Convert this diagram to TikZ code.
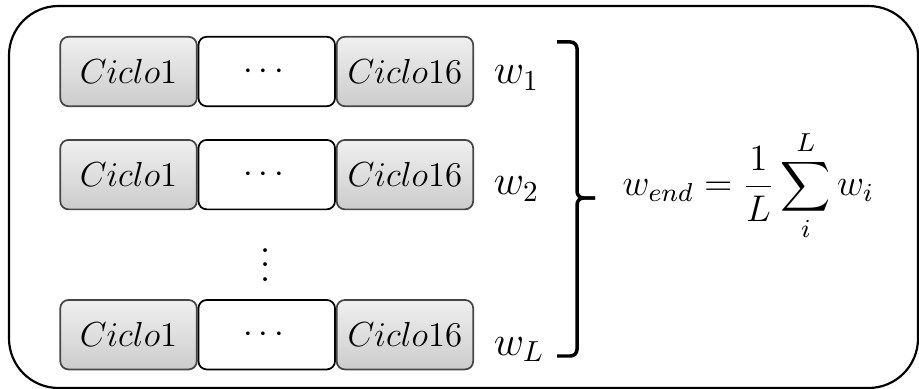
\documentclass[tikz,border=0pt]{standalone}
\usepackage{fix-cm}
\usepackage{amsmath}
\usetikzlibrary{positioning}

\begin{document}
\begin{tikzpicture}[
  caja/.style={line width=0.6pt,rounded corners=0.1cm,minimum width=1.655cm,
    minimum height=0.842cm,inner sep=0pt,outer sep=0pt,font=\large},
  ciclo/.style={caja,draw=gray!55!black,top color=gray!12,bottom color=gray!40},
  medio/.style={caja,draw=black,fill=white},
  peso/.style={anchor=base west,inner sep=0pt,font=\Large},
  llave/.style={line width=1.2pt,rounded corners=0.08cm}]
  \useasboundingbox (0,0) rectangle (11.139,4.715);
  % marco exterior
  \draw[line width=0.75pt,rounded corners=0.6cm] (0.109,0.012) rectangle (11.127,4.642);
  % filas de ciclos
  \foreach \r/\y/\w/\yw in {1/3.848/1/3.697,2/2.598/2/2.352,3/0.658/L/0.412}{
    \node[ciclo] (c1-\r) at (1.558,\y) {$Ciclo1$};
    \node[medio,right=0.02cm of c1-\r] (m-\r) {$\cdots$};
    \node[ciclo,right=0.02cm of m-\r] (c16-\r) {$Ciclo16$};
    \node[peso] (w-\r) at (5.98,\yw) {$w_\w$};
  }
  \node (vd) at (3.224,1.636) {\scalebox{1.25}{$\vdots$}};
  % llave y promedio
  \coordinate (lla) at (6.752,4.206);
  \coordinate (llb) at (6.752,0.400);
  \coordinate (punta) at (7.212,2.315);
  \draw[llave] (lla) -| (6.994,2.315) -- (punta);
  \draw[llave] (llb) -| (6.994,2.315) -- (punta);
  \node[anchor=base west,inner sep=0pt,font=\fontsize{12.8}{15}\selectfont] (prom) at (7.54,2.34)
    {$\displaystyle w_{end}=\frac{1}{L}\sum_{i}^{L}w_i$};
\end{tikzpicture}
\end{document}
